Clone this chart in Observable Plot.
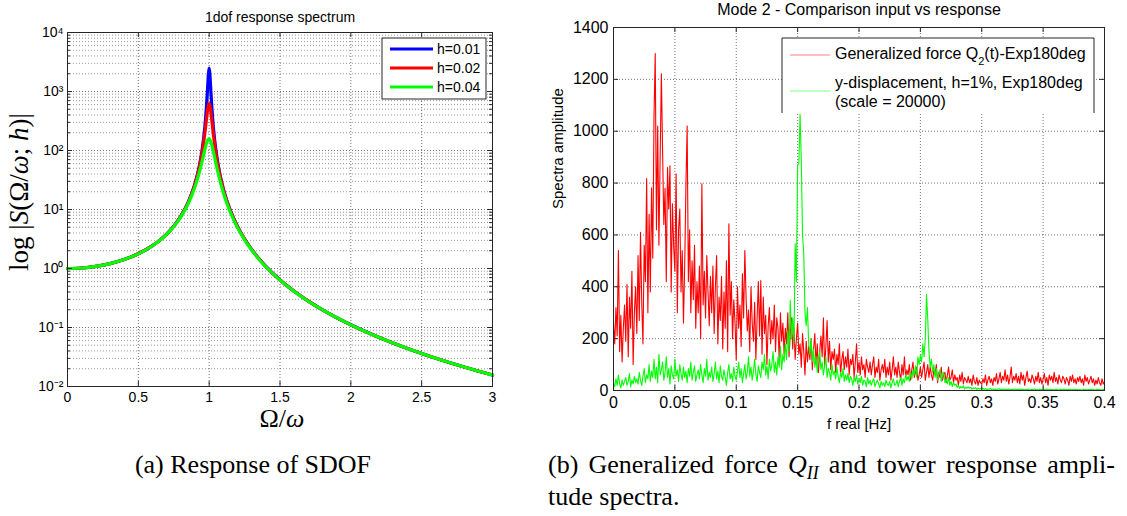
<!DOCTYPE html>
<html><head><meta charset="utf-8">
<script src="https://cdn.jsdelivr.net/npm/d3@7"></script>
<script src="https://cdn.jsdelivr.net/npm/@observablehq/plot@0.6"></script>
<style>
body{margin:0;background:#fff;width:1127px;height:516px;overflow:hidden;position:relative;font-family:"Liberation Sans",Arial,sans-serif}
#left{position:absolute;left:0;top:0}
#right{position:absolute;left:540px;top:0}
.cap{position:absolute;font-family:"Liberation Serif","Times New Roman",serif;font-size:26px;line-height:32px;color:#000;white-space:nowrap}
.sub{font-size:18px;position:relative;top:6px;font-style:italic}
</style></head><body>
<div id="left"></div><div id="right"></div>
<div class="cap" style="left:0px;width:506px;text-align:center;top:449px">(a) Response of SDOF</div>
<div class="cap" style="left:548px;top:449px;width:567px;text-align:justify;text-align-last:justify">(b) Generalized force <i>Q</i><span class="sub">II</span> and tower response ampli-</div>
<div class="cap" style="left:548px;top:481px">tude spectra.</div>
<script>
// ---------- Left panel data: 1dof response spectrum ----------
const leftTitle = "1dof response spectrum";
const dampings = ["h=0.01", "h=0.02", "h=0.04"];
const dampColors = ["#0000ff", "#ff0000", "#00ff00"];
const ratio = [0,0.1,0.2,0.3,0.4,0.5,0.6,0.65,0.7,0.75,0.8,0.85,0.9,0.93,0.95,0.97,0.98,0.99,0.995,1.0,1.005,1.01,1.02,1.03,1.05,1.07,1.1,1.15,1.2,1.25,1.3,1.35,1.4,1.5,1.6,1.7,1.8,2.0,2.2,2.4,2.6,2.8,3.0];
const S_h001 = [1,1.020,1.085,1.208,1.417,1.777,2.440,2.997,3.842,5.218,7.70,12.94,27.45,53.77,101.3,258.4,512.2,1269,2018,2500,1982,1232,488.3,242.0,91.35,46.61,22.43,9.566,5.149,3.154,2.097,1.477,1.0842,0.6396,0.4107,0.2799,0.1993,0.1111,0.0678,0.04413,0.03014,0.02137,0.01562];
const S_h002 = [1,1.020,1.085,1.207,1.416,1.775,2.436,2.992,3.833,5.200,7.655,12.79,26.74,50.93,91.3,200.1,322.1,509.1,594,625,582.6,491.2,303.3,185.0,81.5,43.81,21.72,9.423,5.103,3.136,2.089,1.472,1.0814,0.6385,0.4102,0.2796,0.1991,0.1110,0.0678,0.04412,0.03013,0.02137,0.01562];
const S_h004 = [1,1.020,1.085,1.207,1.415,1.773,2.428,2.974,3.799,5.128,7.48,12.25,24.22,42.04,65.4,105.1,129.6,150.0,155.4,156.25,152.3,144.2,120.6,95.2,56.9,35.31,19.29,8.891,4.931,3.063,2.054,1.453,1.0705,0.6342,0.4081,0.2785,0.1985,0.1109,0.0677,0.0441,0.03012,0.02136,0.01561];
const leftXTicks = [0,0.5,1,1.5,2,2.5,3];
const leftYMajor = [0.01,0.1,1,10,100,1000,10000];

// ---------- Right panel data: Mode 2 spectra ----------
const rightTitle = "Mode 2 - Comparison input vs response";
const rightYLabel = "Spectra amplitude";
const rightXLabel = "f real [Hz]";
const freqStep = 0.001; // Hz between spectral lines
const forceSpec = [
260,180,320,210,540,150,290,110,240,330,
190,410,130,360,240,460,100,300,400,220,
520,270,610,340,180,560,420,817,300,680,
380,782,510,1055,1300,620,1020,560,900,1221,
920,640,780,420,860,700,867,380,720,560,
460,836,300,620,700,380,540,260,480,790,
1020,420,620,300,500,350,560,240,420,300,
480,200,797,330,460,280,520,380,250,440,
300,480,220,400,520,180,360,270,440,160,
380,240,500,150,643,290,420,200,350,260,
120,400,240,330,170,450,280,540,360,230,
310,150,400,260,190,340,120,280,420,210,
424,140,360,220,290,100,250,320,180,270,
200,330,150,280,240,120,300,190,260,140,
240,180,300,130,220,280,160,240,120,200,
260,140,180,90,220,150,60,190,110,170,
120,200,80,160,220,100,180,70,150,210,
130,280,90,170,270,110,190,80,150,120,
160,70,140,100,180,60,120,150,80,130,
90,160,60,120,100,140,50,110,180,70,
110,60,130,80,100,50,120,90,70,110,
60,100,130,50,90,70,120,40,80,100,
70,120,50,90,60,110,40,80,130,60,
90,50,110,70,40,100,60,130,50,80,
60,100,40,80,110,50,70,90,40,60,
90,50,80,110,40,70,100,50,90,60,
40,80,60,100,30,70,50,90,40,60,
70,30,60,90,40,50,80,30,60,40,
50,20,60,35,70,25,50,40,30,55,
30,45,20,60,35,25,50,20,40,30,
25,45,30,60,20,40,55,30,45,20,
50,35,65,25,45,70,30,55,40,80,
35,60,25,50,90,30,55,40,65,30,
55,25,70,40,60,20,50,75,35,45,
30,60,45,25,55,35,70,30,50,25,
45,65,30,50,20,60,40,55,30,70,
35,50,25,60,40,30,55,45,25,50,
40,20,55,35,60,30,45,25,50,35,
55,30,45,20,60,35,50,25,40,55,
30,45,20,40,25,50,30,20,45,25,
35];
const dispSpec = [
30,15,45,20,60,25,10,40,20,35,
50,20,35,65,15,40,25,55,30,45,
25,70,40,20,55,85,30,60,45,100,
35,75,50,120,45,90,30,140,60,80,
110,40,70,130,50,85,25,95,60,45,
120,55,80,35,100,65,40,90,50,75,
30,85,55,110,40,70,95,35,60,80,
45,100,60,30,85,55,120,40,70,50,
90,35,65,110,45,75,30,95,55,40,
80,50,20,70,100,45,65,35,90,55,
40,75,110,50,85,30,65,100,45,70,
130,55,90,40,75,120,60,35,95,70,
50,110,80,140,60,95,45,120,75,100,
150,70,110,60,130,90,170,80,140,110,
180,120,230,150,347,200,280,180,566,420,
870,875,1065,880,600,528,300,250,320,180,
140,200,110,160,90,130,70,120,150,80,
110,60,95,130,50,85,70,40,100,60,
75,45,90,55,30,70,50,85,35,60,
40,65,30,55,45,20,50,35,60,25,
45,30,55,20,40,35,15,50,25,40,
20,35,45,15,30,40,25,10,35,20,
30,15,40,25,20,35,10,30,45,20,
25,40,15,35,50,20,45,30,60,40,
55,35,70,45,80,60,95,50,130,100,
135,110,180,130,200,370,277,150,90,120,
70,100,50,85,40,65,80,35,55,70,
30,45,25,50,20,35,15,30,20,25,
12,20,8,15,10,18,6,12,9,14,
8,12,5,10,7,11,4,9,6,8,
5,8,4,7,3,6,5,8,4,6,
4,6,3,5,7,3,5,4,6,3,
5,3,6,4,2,5,4,6,3,5,
4,6,3,5,4,2,5,3,6,4,
3,5,4,6,3,4,2,5,3,4,
5,3,4,6,2,4,5,3,4,2,
4,5,3,2,5,4,3,6,2,4,
3,4,5,2,4,3,5,3,4,2,
4,2,3,5,3,4,2,4,3,5,
3,4,2,3,5,2,4,3,2,4,
3];
const seriesNames = ["Generalized force Q|2|(t)-Exp180deg", "y-displacement, h=1%, Exp180deg", "(scale = 20000)"];
const seriesColors = ["#ff0000", "#00ff00"];
const rightXTicks = [0,0.05,0.1,0.15,0.2,0.25,0.3,0.35,0.4];
const rightYTicks = [0,200,400,600,800,1000,1200,1400];

// ---------- build tables ----------
const dofRows = [];
[S_h001, S_h002, S_h004].forEach((arr, k) => arr.forEach((v, i) => dofRows.push({r: ratio[i], S: v, h: dampings[k]})));
const forceRows = forceSpec.map((v, i) => ({f: +(i * freqStep).toFixed(3), a: v}));
const dispRows = dispSpec.map((v, i) => ({f: +(i * freqStep).toFixed(3), a: v}));

const minorY = [];
for (let e = -2; e < 4; e++) for (let m = 2; m <= 9; m++) minorY.push(m * Math.pow(10, e));

const supMap = {"-":"\u207B","0":"\u2070","1":"\u00B9","2":"\u00B2","3":"\u00B3","4":"\u2074"};
const supFmt = d => "10" + String(Math.round(Math.log10(d))).split("").map(c => supMap[c]).join("");

const gridStyle = {stroke: "#000", strokeOpacity: 0.55, strokeDasharray: "1,2", strokeWidth: 1};
const axisColor = "#262626";

// ---------- Left plot ----------
const LW = 540, LH = 440, Lml = 67, Lmr = 48, Lmt = 32, Lmb = 54;
const Lph = LH - Lmt - Lmb, Lpw = LW - Lml - Lmr;
const L = Plot.plot({
  width: LW, height: LH,
  marginLeft: Lml, marginRight: Lmr, marginTop: Lmt, marginBottom: Lmb,
  style: {fontFamily: "Liberation Sans, Arial, sans-serif", fontSize: "14px", background: "white", color: "#000", overflow: "visible"},
  x: {domain: [0, 3]},
  y: {type: "log", domain: [0.01, 10000]},
  marks: [
    Plot.gridY(minorY, {...gridStyle, strokeOpacity: 0.4}),
    Plot.gridY(leftYMajor, gridStyle),
    Plot.gridX(leftXTicks, gridStyle),
    ...dampings.map((h, k) => Plot.line(dofRows.filter(d => d.h === h), {x: "r", y: "S", stroke: dampColors[k], strokeWidth: 3.2, curve: "monotone-x"})),
    Plot.frame({stroke: axisColor}),
    Plot.tickX(leftXTicks, {x: d => d, insetTop: Lph - 5, stroke: axisColor}),
    Plot.tickX(leftXTicks, {x: d => d, insetBottom: Lph - 5, stroke: axisColor}),
    Plot.tickY(leftYMajor, {y: d => d, insetRight: Lpw - 5, stroke: axisColor}),
    Plot.tickY(leftYMajor, {y: d => d, insetLeft: Lpw - 5, stroke: axisColor}),
    Plot.tickY(minorY, {y: d => d, insetRight: Lpw - 3, stroke: axisColor}),
    Plot.tickY(minorY, {y: d => d, insetLeft: Lpw - 3, stroke: axisColor}),
    Plot.axisX(leftXTicks, {tickSize: 0, tickPadding: 6, tickFormat: d => String(d), label: null}),
    Plot.axisY(leftYMajor, {tickSize: 0, tickPadding: 4, tickFormat: supFmt, label: null}),
    Plot.text([leftTitle], {frameAnchor: "top", lineAnchor: "middle", dy: -15, fontSize: 14})
  ]
});
document.getElementById("left").appendChild(L);
{
  const s = d3.select(L);
  const yl = s.append("text").attr("transform", "translate(28,192) rotate(-90)").attr("text-anchor", "middle")
    .style("font-family", "Liberation Serif, serif").style("font-size", "27px");
  yl.append("tspan").text("log |");
  yl.append("tspan").attr("font-style", "italic").text("S");
  yl.append("tspan").text("(\u03A9/");
  yl.append("tspan").attr("font-style", "italic").text("\u03C9");
  yl.append("tspan").text("; ");
  yl.append("tspan").attr("font-style", "italic").text("h");
  yl.append("tspan").text(")|");
  const xl = s.append("text").attr("x", 282).attr("y", 427).attr("text-anchor", "middle")
    .style("font-family", "Liberation Serif, serif").style("font-size", "26px");
  xl.append("tspan").text("\u03A9/");
  xl.append("tspan").attr("font-style", "italic").text("\u03C9");
  // legend
  const g = s.append("g").attr("text-anchor", "start");
  g.append("rect").attr("x", 382).attr("y", 38).attr("width", 104).attr("height", 61).attr("fill", "white").attr("stroke", axisColor);
  dampings.forEach((h, k) => {
    const y = 49 + k * 19;
    g.append("line").attr("x1", 390).attr("x2", 433).attr("y1", y).attr("y2", y).attr("stroke", dampColors[k]).attr("stroke-width", 3.2);
    g.append("text").attr("x", 437).attr("y", y).attr("dy", "0.35em").attr("text-anchor", "start").style("font-size", "14px").text(h);
  });
}

// ---------- Right plot ----------
const RW = 587, RH = 440, Rml = 73, Rmr = 23, Rmt = 27, Rmb = 50;
const Rph = RH - Rmt - Rmb, Rpw = RW - Rml - Rmr;
const R = Plot.plot({
  width: RW, height: RH,
  marginLeft: Rml, marginRight: Rmr, marginTop: Rmt, marginBottom: Rmb,
  style: {fontFamily: "Liberation Sans, Arial, sans-serif", fontSize: "16px", background: "white", color: "#000", overflow: "visible"},
  x: {domain: [0, 0.4]},
  y: {domain: [0, 1400]},
  marks: [
    Plot.gridY(rightYTicks.slice(1, -1), gridStyle),
    Plot.gridX(rightXTicks.slice(1, -1), gridStyle),
    Plot.line(forceRows, {x: "f", y: "a", stroke: seriesColors[0], strokeWidth: 1.1}),
    Plot.line(dispRows, {x: "f", y: "a", stroke: seriesColors[1], strokeWidth: 1.1}),
    Plot.frame({stroke: axisColor}),
    Plot.tickX(rightXTicks, {x: d => d, insetTop: Rph - 5, stroke: axisColor}),
    Plot.tickX(rightXTicks, {x: d => d, insetBottom: Rph - 5, stroke: axisColor}),
    Plot.tickY(rightYTicks, {y: d => d, insetRight: Rpw - 5, stroke: axisColor}),
    Plot.tickY(rightYTicks, {y: d => d, insetLeft: Rpw - 5, stroke: axisColor}),
    Plot.axisX(rightXTicks, {tickSize: 0, tickPadding: 6, tickFormat: d => String(d), label: null}),
    Plot.axisY(rightYTicks, {tickSize: 0, tickPadding: 5, tickFormat: d => String(d), label: null}),
    Plot.text([rightTitle], {frameAnchor: "top", lineAnchor: "middle", dy: -18, fontSize: 16}),
    Plot.text([rightYLabel], {frameAnchor: "left", lineAnchor: "middle", dx: -55, rotate: -90, fontSize: 15}),
    Plot.text([rightXLabel], {frameAnchor: "bottom", lineAnchor: "middle", dy: 34, fontSize: 15})
  ]
});
document.getElementById("right").appendChild(R);
{
  const s = d3.select(R);
  const g = s.append("g").style("font-size", "16px").attr("text-anchor", "start");
  g.append("rect").attr("x", 242).attr("y", 38).attr("width", 312).attr("height", 76).attr("fill", "white");
  g.append("path").attr("d", "M242,113V38H554V113").attr("fill", "none").attr("stroke", axisColor);
  g.append("line").attr("x1", 250).attr("x2", 290).attr("y1", 55).attr("y2", 55).attr("stroke", seriesColors[0]).attr("stroke-width", 1).attr("stroke-opacity", 0.5);
  g.append("line").attr("x1", 250).attr("x2", 290).attr("y1", 91).attr("y2", 91).attr("stroke", seriesColors[1]).attr("stroke-width", 1).attr("stroke-opacity", 0.5);
  const parts = seriesNames[0].split("|");
  const t1 = g.append("text").attr("x", 295).attr("y", 53).attr("dy", "0.35em").attr("text-anchor", "start");
  t1.append("tspan").text(parts[0]);
  t1.append("tspan").attr("dy", 6).style("font-size", "11px").text(parts[1]);
  t1.append("tspan").attr("dy", -6).text(parts[2]);
  g.append("text").attr("x", 295).attr("y", 82).attr("dy", "0.35em").attr("text-anchor", "start").text(seriesNames[1]);
  g.append("text").attr("x", 295).attr("y", 101).attr("dy", "0.35em").attr("text-anchor", "start").text(seriesNames[2]);
}
</script>
</body></html>
